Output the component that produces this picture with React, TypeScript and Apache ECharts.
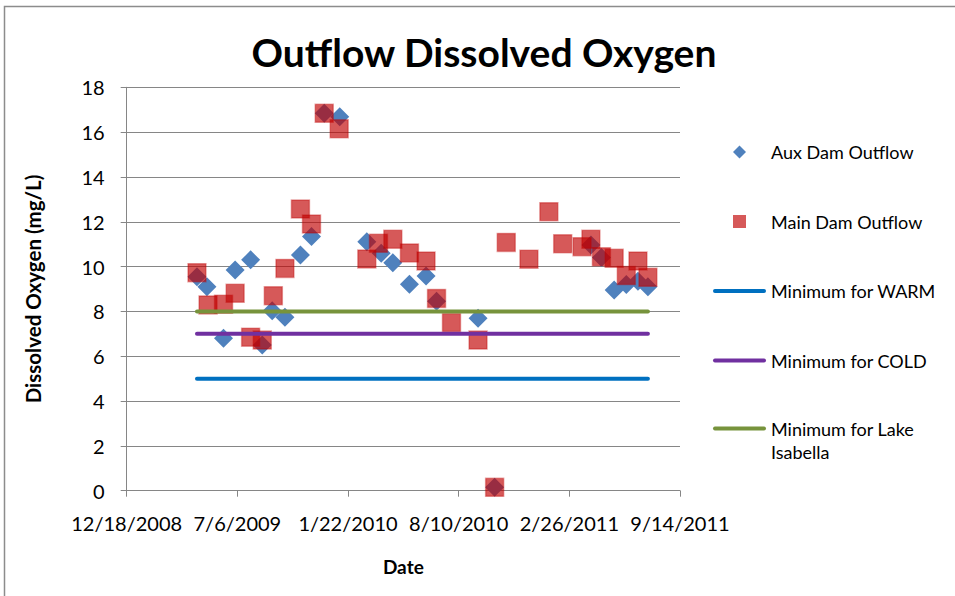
import React, { useEffect, useRef } from "react";
import * as echarts from "echarts";

// ---- Data ----
const auxDates = [
  "2009-04-24", "2009-05-12", "2009-06-11", "2009-07-02", "2009-07-30",
  "2009-08-20", "2009-09-07", "2009-09-30", "2009-10-28", "2009-11-17",
  "2009-12-10", "2010-01-07", "2010-02-25", "2010-03-23", "2010-04-13",
  "2010-05-13", "2010-06-12", "2010-07-01", "2010-09-14", "2010-10-14",
  "2011-04-06", "2011-04-25", "2011-05-18", "2011-06-09", "2011-06-30",
  "2011-07-18",
];
const auxValues = [
  9.55, 9.1, 6.8, 9.85, 10.3,
  6.5, 8.03, 7.74, 10.52, 11.34,
  16.84, 16.69, 11.11, 10.6, 10.17,
  9.21, 9.58, 8.45, 7.69, 0.15,
  10.96, 10.4, 8.96, 9.2, 9.35,
  9.1,
];

const mainDates = [
  "2009-04-24", "2009-05-14", "2009-06-11", "2009-07-02", "2009-07-30",
  "2009-08-20", "2009-09-09", "2009-09-30", "2009-10-28", "2009-11-17",
  "2009-12-10", "2010-01-06", "2010-02-25", "2010-03-18", "2010-04-13",
  "2010-05-13", "2010-06-12", "2010-07-01", "2010-07-28", "2010-09-14",
  "2010-10-14", "2010-11-04", "2010-12-15", "2011-01-20", "2011-02-14",
  "2011-03-21", "2011-04-06", "2011-04-25", "2011-05-18", "2011-06-09",
  "2011-06-30", "2011-07-18",
];
const mainValues = [
  9.73, 8.29, 8.32, 8.81, 6.85,
  6.72, 8.7, 9.92, 12.57, 11.9,
  16.84, 16.15, 10.34, 11.04, 11.22,
  10.61, 10.25, 8.58, 7.5, 6.72,
  0.15, 11.08, 10.33, 12.45, 11.02,
  10.89, 11.22, 10.44, 10.37, 9.6,
  10.25, 9.52,
];

const limitDates = ["2009-04-24", "2011-07-18"];
const warmLimit = [5, 5];
const coldLimit = [7, 7];
const lakeLimit = [8, 8];

const xMinDate = "2008-12-18";
const xMaxDate = "2011-09-14";
const xStepDays = 200;
const yMin = 0;
const yMax = 18;
const yStep = 2;

const seriesNames = [
  "Aux Dam Outflow",
  "Main Dam Outflow",
  "Minimum for WARM",
  "Minimum for COLD",
  "Minimum for Lake Isabella",
];

// Excel-style serial day number
const EXCEL_EPOCH = Date.UTC(1899, 11, 30);
const toSerial = (s: string) => {
  const [y, m, d] = s.split("-").map(Number);
  return Math.round((Date.UTC(y, m - 1, d) - EXCEL_EPOCH) / 86400000);
};
const fromSerial = (n: number) => {
  const dt = new Date(EXCEL_EPOCH + n * 86400000);
  return `${dt.getUTCMonth() + 1}/${dt.getUTCDate()}/${dt.getUTCFullYear()}`;
};
const pairs = (dates: string[], vals: number[]) =>
  dates.map((d, i) => [toSerial(d), vals[i]]);

const FONT = "Lato, 'Open Sans', sans-serif";
const GRAY = "#868686";

export default function App() {
  const ref = useRef<HTMLDivElement>(null);

  useEffect(() => {
    if (!ref.current) return;
    const chart = echarts.init(ref.current, undefined, { renderer: "svg" });
    const lineIcon = "path://M2,0 L52,0 A2,2 0 0 1 52,4 L2,4 A2,2 0 0 1 2,0 Z";
    const diamondIcon = "path://M6,0 L12,6 L6,12 L0,6 Z";
    const squareIcon = "path://M0,0 L12,0 L12,12 L0,12 Z";
    const legendBase = {
      orient: "vertical",
      left: 713,
      padding: 0,
      itemWidth: 53,
      itemHeight: 13,
      symbolKeepAspect: true,
      itemStyle: { borderWidth: 0 },
      textStyle: { fontFamily: FONT, fontSize: 18, color: "#000", lineHeight: 23 },
    };

    chart.setOption({
      animation: false,
      backgroundColor: "#ffffff",
      textStyle: { fontFamily: FONT },
      graphic: [
        {
          type: "rect",
          shape: { x: 4.5, y: 6.5, width: 1200, height: 1200 },
          style: { fill: "none", stroke: "#8c8c8c", lineWidth: 1.5 },
          silent: true,
        },
        {
          type: "text",
          x: 484,
          y: 52,
          style: {
            text: "Outflow Dissolved Oxygen",
            fontFamily: FONT,
            fontWeight: "bold",
            fontSize: 39,
            fill: "#000",
            align: "center",
            verticalAlign: "middle",
          },
        },
      ],
      grid: {
        left: 126.7,
        right: 955 - 680,
        top: 87.3,
        bottom: 596 - 490.7,
        containLabel: false,
      },
      legend: [
        {
          ...legendBase,
          top: 140.5,
          itemGap: 46.5,
          data: [
            { name: seriesNames[0], icon: diamondIcon },
            { name: seriesNames[1], icon: squareIcon },
            { name: seriesNames[2], icon: lineIcon },
            { name: seriesNames[3], icon: lineIcon },
          ],
        },
        {
          ...legendBase,
          top: 394,
          formatter: () => "\nMinimum for Lake\nIsabella",
          data: [{ name: seriesNames[4], icon: lineIcon }],
        },
      ],
      xAxis: {
        type: "value",
        min: toSerial(xMinDate),
        max: toSerial(xMaxDate),
        interval: xStepDays,
        name: "Date",
        nameLocation: "middle",
        nameGap: 66,
        nameTextStyle: { fontFamily: FONT, fontWeight: "bold", fontSize: 19, color: "#000" },
        axisLine: { show: true, lineStyle: { color: GRAY, width: 1 } },
        axisTick: { show: true, length: 6, lineStyle: { color: GRAY } },
        splitLine: { show: false },
        axisLabel: {
          formatter: (v: number) => fromSerial(v),
          fontFamily: FONT,
          fontSize: 20,
          color: "#000",
          margin: 22,
        },
      },
      yAxis: {
        type: "value",
        min: yMin,
        max: yMax,
        interval: yStep,
        name: "Dissolved Oxygen (mg/L)",
        nameLocation: "middle",
        nameGap: 83,
        nameRotate: 90,
        nameTextStyle: { fontFamily: FONT, fontWeight: "bold", fontSize: 20.5, color: "#000" },
        axisLine: { show: true, lineStyle: { color: GRAY, width: 1 } },
        axisTick: { show: true, length: 6, lineStyle: { color: GRAY } },
        splitLine: { show: true, lineStyle: { color: GRAY, width: 1.2 } },
        axisLabel: { fontFamily: FONT, fontSize: 20, color: "#000", margin: 22 },
      },
      series: [
        {
          name: seriesNames[2],
          type: "line",
          color: "#0070C0",
          data: pairs(limitDates, warmLimit),
          symbol: "none",
          lineStyle: { width: 4, color: "#0070C0", cap: "round" },
        },
        {
          name: seriesNames[3],
          type: "line",
          color: "#7030A0",
          data: pairs(limitDates, coldLimit),
          symbol: "none",
          lineStyle: { width: 4, color: "#7030A0", cap: "round" },
        },
        {
          name: seriesNames[4],
          type: "line",
          color: "#77933C",
          data: pairs(limitDates, lakeLimit),
          symbol: "none",
          lineStyle: { width: 4, color: "#77933C", cap: "round" },
        },
        {
          name: seriesNames[0],
          type: "scatter",
          symbol: "diamond",
          symbolSize: 19,
          color: "#4F81BD",
          itemStyle: { color: "#4F81BD", opacity: 1 },
          data: pairs(auxDates, auxValues),
        },
        {
          name: seriesNames[1],
          type: "scatter",
          symbol: "rect",
          symbolSize: 18,
          color: "rgba(192,0,0,0.65)",
          itemStyle: {
            color: "rgba(192,0,0,0.65)",
            borderColor: "rgba(192,0,0,0.35)",
            borderWidth: 1.5,
            opacity: 1,
          },
          data: pairs(mainDates, mainValues),
        },
      ],
    });
    return () => chart.dispose();
  }, []);

  return (
    <div
      ref={ref}
      style={{ position: "fixed", left: 0, top: 0, width: 955, height: 596, background: "#fff" }}
    />
  );
}
